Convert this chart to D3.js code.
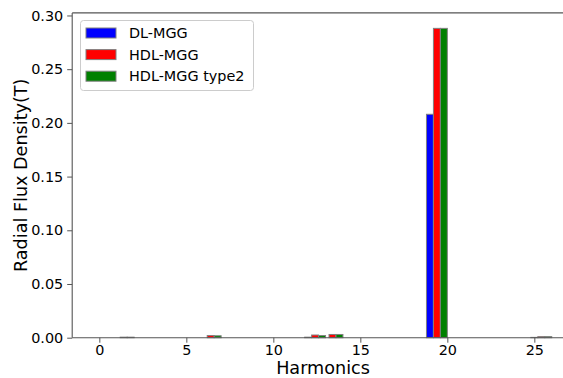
<!DOCTYPE html>
<html>
<head>
<meta charset="utf-8">
<script src="https://cdn.jsdelivr.net/npm/d3@7.9.0/dist/d3.min.js"></script>
<style>
  html, body { margin: 0; padding: 0; background: #fff; }
  svg { display: block; font-family: "DejaVu Sans", sans-serif; }
</style>
</head>
<body>
<div id="chart"></div>
<script>
// harmonic orders 0..26
const harmonics = d3.range(0, 27);
const seriesNames = ['DL-MGG', 'HDL-MGG', 'HDL-MGG type2'];
const seriesColors = ['#0000ff', '#ff0000', '#008000'];

const dlMgg = [0, 0, 0, 0, 0, 0, 0, 0, 0, 0, 0, 0, 0.0005, 0, 0, 0, 0, 0, 0, 0.208, 0, 0, 0, 0, 0, 0.0003, 0];
const hdlMgg = [0, 0.0005, 0, 0, 0, 0, 0.002, 0, 0, 0, 0, 0, 0.0025, 0.003, 0, 0, 0, 0, 0, 0.288, 0, 0, 0, 0, 0, 0.001, 0];
const hdlMggType2 = [0, 0.0005, 0, 0, 0, 0, 0.0018, 0, 0, 0, 0, 0, 0.002, 0.003, 0, 0, 0, 0, 0, 0.288, 0, 0, 0, 0, 0, 0.001, 0];
const seriesValues = [dlMgg, hdlMgg, hdlMggType2];

const xTicks = [0, 5, 10, 15, 20, 25];
const yTicks = [0, 0.05, 0.10, 0.15, 0.20, 0.25, 0.30];

const width = 563;
const height = 378;
const barWidth = 0.4;

const svg = d3.select('#chart').append('svg')
  .attr('width', width)
  .attr('height', height);

svg.append('rect').attr('width', width).attr('height', height).attr('fill', '#fff');

const xScale = d3.scaleLinear().domain([-1.56, 28.36]).range([72.2, 592.8]);
const yScale = d3.scaleLinear().domain([0, 0.3024]).range([337.7, 12.9]);

// bars: series i sits at harmonic + i * barWidth
seriesValues.forEach((vals, i) => {
  svg.append('g').selectAll('rect')
    .data(harmonics)
    .join('rect')
    .attr('x', h => xScale(h + i * barWidth - barWidth / 2))
    .attr('width', xScale(barWidth) - xScale(0))
    .attr('y', h => yScale(vals[h]))
    .attr('height', h => yScale(0) - yScale(vals[h]))
    .attr('fill', seriesColors[i])
    .attr('stroke', 'grey')
    .attr('stroke-width', 1);
});

// axes
const xAxis = svg.append('g')
  .attr('transform', `translate(0,${yScale(0)})`)
  .call(d3.axisBottom(xScale).tickValues(xTicks).tickSize(5).tickPadding(2).tickFormat(d3.format('d')));
const yAxis = svg.append('g')
  .attr('transform', `translate(${xScale.range()[0]},0)`)
  .call(d3.axisLeft(yScale).tickValues(yTicks).tickSize(5).tickPadding(4).tickFormat(d3.format('.2f')));

[xAxis, yAxis].forEach(ax => {
  ax.select('.domain').remove();
  ax.selectAll('.tick line').attr('stroke', '#555');
  ax.selectAll('.tick text').attr('fill', '#000').style('font-size', '14.4px').style('font-family', '"DejaVu Sans", sans-serif');
});

// spines
const [x0, x1] = xScale.range();
const [y0, y1] = yScale.range();
const spines = svg.append('g').attr('stroke', '#555').attr('stroke-width', 1.1).attr('fill', 'none');
spines.append('line').attr('x1', x0).attr('x2', x0).attr('y1', y0).attr('y2', y1);
spines.append('line').attr('x1', x0).attr('x2', x1).attr('y1', y0).attr('y2', y0);
spines.append('line').attr('x1', x0).attr('x2', x1).attr('y1', y1).attr('y2', y1);
spines.append('line').attr('x1', x1).attr('x2', x1).attr('y1', y0).attr('y2', y1);

// axis labels
svg.append('text')
  .attr('x', 323).attr('y', 374)
  .attr('text-anchor', 'middle')
  .style('font-size', '17.6px')
  .text('Harmonics');
svg.append('text')
  .attr('transform', `translate(27,${(y0 + y1) / 2}) rotate(-90)`)
  .attr('text-anchor', 'middle')
  .style('font-size', '17.6px')
  .text('Radial Flux Density(T)');

// legend
const legend = svg.append('g');
legend.append('rect')
  .attr('x', 80.5).attr('y', 20.5).attr('width', 173).attr('height', 70)
  .attr('rx', 3).attr('fill', '#fff').attr('fill-opacity', 0.8)
  .attr('stroke', '#ccc').attr('stroke-width', 1);
seriesNames.forEach((name, i) => {
  const cy = 33 + i * 21.6;
  legend.append('rect')
    .attr('x', 86).attr('y', cy - 5).attr('width', 30).attr('height', 10)
    .attr('fill', seriesColors[i]).attr('stroke', 'grey').attr('stroke-width', 1);
  legend.append('text')
    .attr('x', 129).attr('y', cy + 5)
    .style('font-size', '14.4px')
    .text(name);
});
</script>
</body>
</html>
